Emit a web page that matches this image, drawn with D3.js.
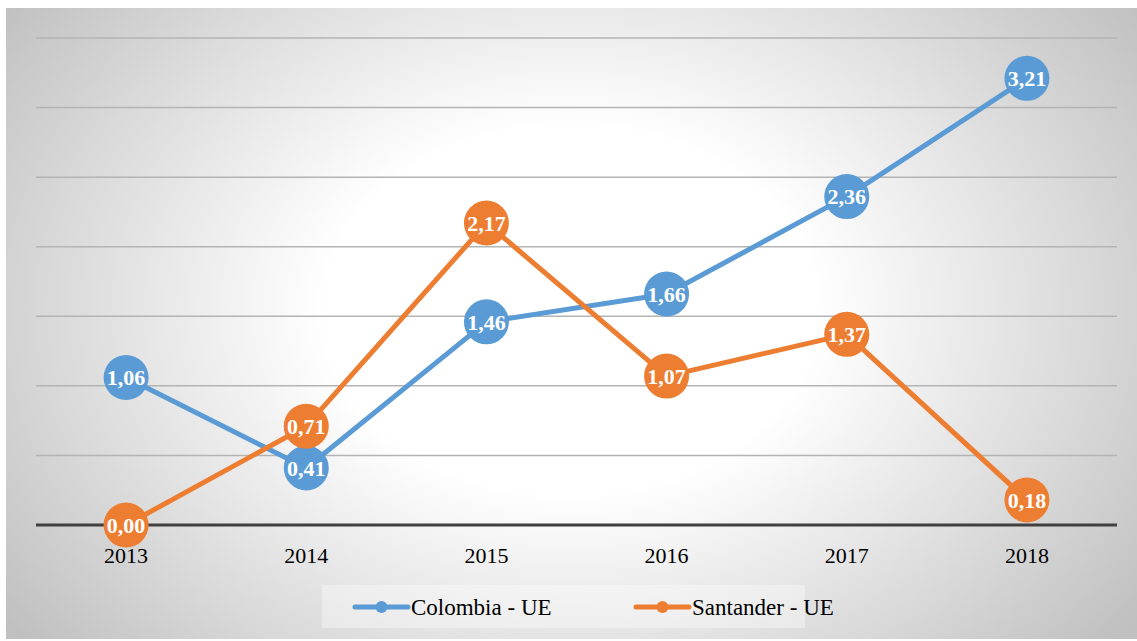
<!DOCTYPE html>
<html>
<head>
<meta charset="utf-8">
<script src="https://cdn.jsdelivr.net/npm/d3@7"></script>
<style>
  body { margin: 0; background: #fff; }
  svg { display: block; }
  svg text { font-family: "Liberation Serif", "Times New Roman", "DejaVu Serif", serif; }
</style>
</head>
<body>
<script>
var years = ["2013", "2014", "2015", "2016", "2017", "2018"];
var colombia = [1.06, 0.41, 1.46, 1.66, 2.36, 3.21];
var santander = [0.00, 0.71, 2.17, 1.07, 1.37, 0.18];
var seriesNames = ["Colombia - UE", "Santander - UE"];
var seriesColors = ["#5b9bd5", "#ed7d31"];
var yTicks = [0, 0.5, 1, 1.5, 2, 2.5, 3, 3.5];

var width = 1137, height = 641;
var plotLeft = 36, plotRight = 1117, plotTop = 38, plotBottom = 525;

var svg = d3.select("body").append("svg")
  .attr("width", width)
  .attr("height", height);

// background: soft radial glow, white in the middle, grey to the corners
var defs = svg.append("defs");
var grad = defs.append("radialGradient")
  .attr("id", "bg")
  .attr("gradientUnits", "userSpaceOnUse")
  .attr("cx", 570).attr("cy", 310).attr("r", 700)
  .attr("gradientTransform", "translate(0,310) scale(1,0.75) translate(0,-310)");
grad.append("stop").attr("offset", "0%").attr("stop-color", "#ffffff");
grad.append("stop").attr("offset", "35%").attr("stop-color", "#ffffff");
grad.append("stop").attr("offset", "100%").attr("stop-color", "#c0c0c0");

svg.append("rect")
  .attr("x", 6).attr("y", 8)
  .attr("width", width - 6).attr("height", height - 10)
  .attr("fill", "url(#bg)");

var x = d3.scaleBand().domain(years).range([plotLeft, plotRight]);
var y = d3.scaleLinear().domain([0, 3.5]).range([plotBottom, plotTop]);

// gridlines
svg.append("g").selectAll("line")
  .data(yTicks.slice(1))
  .enter().append("line")
  .attr("x1", plotLeft).attr("x2", plotRight)
  .attr("y1", function(d) { return y(d); })
  .attr("y2", function(d) { return y(d); })
  .attr("stroke", "#b4b4b4")
  .attr("stroke-width", 1.5);

// x axis
var xAxis = svg.append("g")
  .attr("transform", "translate(0," + plotBottom + ")")
  .call(d3.axisBottom(x).tickSize(0).tickPadding(22));
xAxis.select(".domain").remove();
xAxis.attr("font-family", null);
xAxis.append("line")
  .attr("x1", plotLeft).attr("x2", plotRight)
  .attr("stroke", "#404040").attr("stroke-width", 3);
xAxis.selectAll("text")
  .style("font-size", "22px")
  .attr("fill", "#000");

var series = [colombia, santander];
var line = d3.line()
  .x(function(d, i) { return x(years[i]) + x.bandwidth() / 2; })
  .y(function(d) { return y(d); });

series.forEach(function(vals, s) {
  var g = svg.append("g");
  g.append("path")
    .datum(vals)
    .attr("d", line)
    .attr("fill", "none")
    .attr("stroke", seriesColors[s])
    .attr("stroke-width", 5)
    .attr("stroke-linejoin", "round");

  var pts = g.selectAll("g.pt")
    .data(vals)
    .enter().append("g")
    .attr("transform", function(d, i) {
      return "translate(" + (x(years[i]) + x.bandwidth() / 2) + "," + y(d) + ")";
    });
  pts.append("circle")
    .attr("r", 22.5)
    .attr("fill", seriesColors[s]);
  pts.append("text")
    .attr("text-anchor", "middle")
    .attr("dy", "0.35em")
    .style("font-weight", "bold")
    .style("font-size", "22px")
    .attr("fill", "#fff")
    .text(function(d) { return d3.format(".2f")(d).replace(".", ","); });
});

// legend
var legend = svg.append("g");
legend.append("rect")
  .attr("x", 322).attr("y", 585)
  .attr("width", 483).attr("height", 43)
  .attr("fill", "#ffffff").attr("opacity", 0.35);

var legendX = [355, 636];
seriesNames.forEach(function(name, s) {
  var lg = legend.append("g").attr("transform", "translate(" + legendX[s] + ",607)");
  lg.append("line")
    .attr("x1", 0).attr("x2", 53)
    .attr("stroke", seriesColors[s])
    .attr("stroke-width", 5)
    .attr("stroke-linecap", "round");
  lg.append("circle")
    .attr("cx", 26.5).attr("r", 6)
    .attr("fill", seriesColors[s]);
  lg.append("text")
    .attr("x", 56)
    .attr("dy", "0.35em")
    .style("font-size", "23px")
    .attr("fill", "#000")
    .text(name);
});
</script>
</body>
</html>
